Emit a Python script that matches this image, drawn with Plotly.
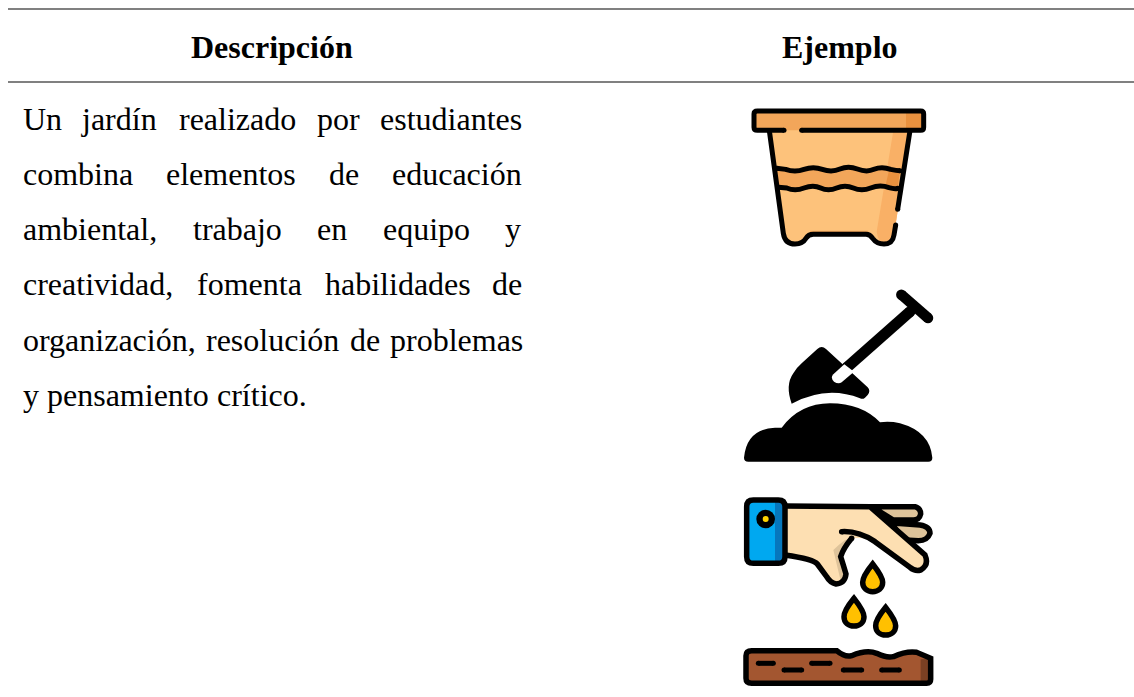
import re
import plotly.graph_objects as go

# ---- table content ----
HEADERS = ["Descripción", "Ejemplo"]
HEADER_X = [271.5, 839.5]
HEADER_Y = 47
RULES_Y = [9, 82]
LINE_Y = [119, 174, 229, 284, 340, 395]
LINES = [
    ["Un", "jardín", "realizado", "por", "estudiantes"],
    ["combina", "elementos", "de", "educación"],
    ["ambiental,", "trabajo", "en", "equipo", "y"],
    ["creatividad,", "fomenta", "habilidades", "de"],
    ["organización,", "resolución", "de", "problemas"],
    ["y", "pensamiento", "crítico."],
]
WORD_X = [
    [23, 81, 179, 317, 380],
    [23, 166, 329, 392],
    [23, 193, 317, 383, 505],
    [23, 197, 325, 492],
    [23, 206, 350, 390],
    [23, 47, 217],
]
FONT_SIZE = 32
FONT = "Liberation Serif"

BLK = "#000000"
LIGHT, MID, DARK = "#FDC27B", "#F2A65A", "#E9913F"
SHADE = "#F9B066"
W = 5
WH = 5.5
shapes = []


def conv(d, ox, oy, dx=0, dy=0):
    """Icon sketches are in 3x crop units: bring them to page pixels."""
    out, is_x = [], True
    for tok in re.findall(r"[MLQCTZ]|-?\d+\.?\d*", d):
        if tok.isalpha():
            out.append(tok)
            is_x = True
        else:
            v = float(tok)
            out.append(f"{(v + dx) / 3 + ox:.2f}" if is_x else f"{(v + dy) / 3 + oy:.2f}")
            is_x = not is_x
    return " ".join(out)


def path(d, ox, oy, fill=None, width=0, color=BLK, dx=0, dy=0):
    shapes.append(dict(type="path", xref="x", yref="y", layer="above",
                       path=conv(d, ox, oy, dx, dy),
                       fillcolor=fill if fill else "rgba(0,0,0,0)",
                       line=dict(width=width, color=color)))


def dot(x, y, r, ox, oy, fill=BLK):
    """Circle, r in crop units."""
    shapes.append(dict(type="circle", xref="x", yref="y", layer="above",
                       x0=(x - r) / 3 + ox, x1=(x + r) / 3 + ox,
                       y0=(y - r) / 3 + oy, y1=(y + r) / 3 + oy,
                       fillcolor=fill, line=dict(width=0)))


def stroke(d, ox, oy, width=W, color=BLK):
    path(d, ox, oy, None, width, color)
    nums = re.findall(r"-?\d+\.?\d*", d)
    x0, y0, x1, y1 = map(float, (nums[0], nums[1], nums[-2], nums[-1]))
    r = width * 1.5
    dot(x0, y0, r, ox, oy, color)
    dot(x1, y1, r, ox, oy, color)


# ---- pot icon ----
ox, oy = 730, 100
BODY = ("M 118 90 L 160 400 Q 165 432 195 432 Q 218 432 228 415 Q 235 403 250 403 L 408 403 "
        "Q 420 403 428 415 Q 440 432 462 432 Q 488 432 492 405 L 540 90 Z")
path(BODY, ox, oy, LIGHT)
path("M 490 92 L 440 395 Q 445 428 462 430 Q 488 432 492 405 L 540 92 Z", ox, oy, SHADE)
path("M 240 392 L 415 392 L 415 403 L 240 403 Z", ox, oy, MID)
WAVE_A = ("M 140 205 L 167 208 Q 195 218 222 208 Q 250 198 277 208 Q 305 218 330 207 "
          "Q 355 196 382 207 Q 410 218 432 208 Q 455 198 482 208 Q 500 212 510 212")
WAVE_B_BACK = ("L 503 265 Q 495 268 477 263 Q 450 253 422 264 Q 395 275 370 264 Q 345 253 320 264 "
               "Q 295 275 272 264 Q 250 253 222 264 Q 195 275 170 264 L 145 262 Z")
WAVE_B = ("M 145 262 L 170 264 Q 195 275 222 264 Q 250 253 272 264 Q 295 275 320 264 "
          "Q 345 253 370 264 Q 395 275 422 264 Q 450 253 477 263 Q 495 268 503 265")
path(WAVE_A + " " + WAVE_B_BACK, ox, oy, MID)
path("M 478 207 L 510 212 L 503 265 L 466 259 Z", ox, oy, DARK)
stroke(WAVE_A, ox, oy)
stroke(WAVE_B, ox, oy)
stroke("M 118 92 L 160 400 Q 165 432 195 432 Q 218 432 228 415 Q 235 403 250 403 L 408 403 "
       "Q 420 403 428 415 Q 440 432 462 432 Q 488 432 492 405 L 497 375", ox, oy)
stroke("M 540 92 L 503 328", ox, oy)
path("M 82 33 L 572 33 Q 581 33 581 42 L 581 82 Q 581 91 572 91 L 82 91 Q 72 91 72 82 "
     "L 72 42 Q 72 33 82 33 Z", ox, oy, MID)
path("M 528 39 L 575 39 L 575 85 L 528 85 Z", ox, oy, DARK)
stroke("M 162 91 L 82 91 Q 72 91 72 82 L 72 42 Q 72 33 82 33 L 572 33 Q 581 33 581 42 "
       "L 581 82 Q 581 91 572 91 L 215 91", ox, oy)

# ---- shovel icon ----
ox, oy = 730, 285
path("M 262 192 Q 275 180 288 192 L 413 307 Q 423 318 413 330 L 405 338 Q 398 344 390 340 "
     "Q 290 300 185 356 Q 165 300 190 265 Q 200 248 215 235 Z", ox, oy, BLK)
stroke("M 514 29 L 594 99", ox, oy, width=10.5)
stroke("M 540 80 L 350 248", ox, oy, width=11)
path("M 343 238 L 372 260 L 335 292 Q 325 298 312 290 Q 300 278 310 268 Z", ox, oy, "#FFFFFF")
path("M 42 518 Q 50 432 135 428 L 155 428 Q 210 355 300 355 Q 395 355 450 412 Q 480 408 510 415 "
     "Q 600 440 607 518 Q 607 530 595 530 L 55 530 Q 42 530 42 518 Z", ox, oy, BLK)

# ---- sowing hand icon ----
ox, oy = 730, 490
BACK = "#DEC39A"
SKIN = "#FDDFB2"
path("M 425 50 L 555 50 Q 572 55 572 72 Q 568 90 550 90 L 490 90 Z", ox, oy, BACK, WH)
path("M 480 98 L 570 105 Q 600 110 600 130 Q 592 152 565 152 L 525 150 Z", ox, oy, BACK, WH)
HAND = ("M 165 48 L 420 50 L 585 195 Q 598 225 572 240 Q 555 245 540 232 L 435 155 "
        "Q 410 140 365 145 Q 340 175 332 200 Q 340 225 348 252 Q 345 280 318 282 "
        "Q 300 278 290 260 L 262 222 Q 250 207 165 195 Z")
path(HAND, ox, oy, SKIN)
path("M 365 145 Q 340 175 332 200 Q 340 225 348 252 Q 345 270 332 272 L 310 180 Q 325 165 345 150 Z",
     ox, oy, BACK)
stroke("M 165 48 L 420 50 L 585 195 Q 598 225 572 240 Q 555 245 540 232 L 435 155 "
       "Q 385 122 335 125", ox, oy, WH)
stroke("M 365 145 Q 340 175 332 200 Q 340 225 348 252 Q 345 280 318 282 "
       "Q 300 278 290 260 L 262 222 Q 250 207 165 195", ox, oy, WH)
CUFF = ("M 70 30 L 145 30 Q 165 30 165 50 L 165 200 Q 165 220 145 220 L 70 220 Q 50 220 50 200 "
        "L 50 50 Q 50 30 70 30 Z")
path(CUFF, ox, oy, "#00A8F0")
path("M 135 36 L 150 36 Q 159 36 159 50 L 159 200 Q 159 214 150 214 L 135 214 Z", ox, oy, "#0677BD")
path(CUFF, ox, oy, None, WH)
dot(107, 87, 28, ox, oy)
dot(107, 87, 9, ox, oy, "#FFD400")

DROP = ("M 428 222 C 405 250 398 265 398 277 C 398 295 412 305 428 305 "
        "C 444 305 458 295 458 277 C 458 265 450 250 428 222 Z")
for dx, dy in [(0, 0), (-56, 103), (39, 130)]:
    path(DROP, ox, oy, "#FFC000", WH, dx=dx, dy=dy)

SOIL = ("M 65 482 Q 48 482 48 497 L 48 565 Q 48 580 65 580 L 590 580 Q 602 580 602 568 L 602 505 "
        "L 560 487 Q 530 482 490 500 Q 470 505 440 490 Q 410 478 365 497 Q 345 503 320 482 Z")
path(SOIL, ox, oy, "#A35630")
path("M 572 508 L 602 505 L 602 568 Q 602 580 590 580 L 572 580 Z", ox, oy, "#7B4023")
path(SOIL, ox, oy, None, WH)
for x0, x1, y in [(85, 130, 520), (162, 215, 540), (245, 300, 520), (340, 395, 540), (455, 508, 540)]:
    stroke(f"M {x0} {y} L {x1} {y}", ox, oy)

# ---- rules ----
for y in RULES_Y:
    shapes.append(dict(type="line", xref="x", yref="y", x0=8, x1=1134, y0=y, y1=y,
                       line=dict(color="#808080", width=2)))

# ---- text ----
annotations = []
for t, x in zip(HEADERS, HEADER_X):
    annotations.append(dict(x=x, y=HEADER_Y, xref="x", yref="y", text=f"<b>{t}</b>", showarrow=False,
                            xanchor="center", yanchor="middle",
                            font=dict(family=FONT, size=FONT_SIZE, color=BLK)))
for words, xs, y in zip(LINES, WORD_X, LINE_Y):
    for w, x in zip(words, xs):
        annotations.append(dict(x=x, y=y, xref="x", yref="y", text=w, showarrow=False,
                                xanchor="left", yanchor="middle", borderpad=0, borderwidth=0,
                                font=dict(family=FONT, size=FONT_SIZE, color=BLK)))

fig = go.Figure()
fig.update_layout(width=1134, height=697, margin=dict(l=0, r=0, t=0, b=0), autosize=False,
                  paper_bgcolor="white", plot_bgcolor="white", showlegend=False,
                  xaxis=dict(range=[0, 1134], visible=False, fixedrange=True),
                  yaxis=dict(range=[697, 0], visible=False, fixedrange=True),
                  shapes=shapes, annotations=annotations)
fig.write_html("out.html", config={"displayModeBar": False},
               post_script="document.body.style.margin='0';document.documentElement.style.overflow='hidden';")
